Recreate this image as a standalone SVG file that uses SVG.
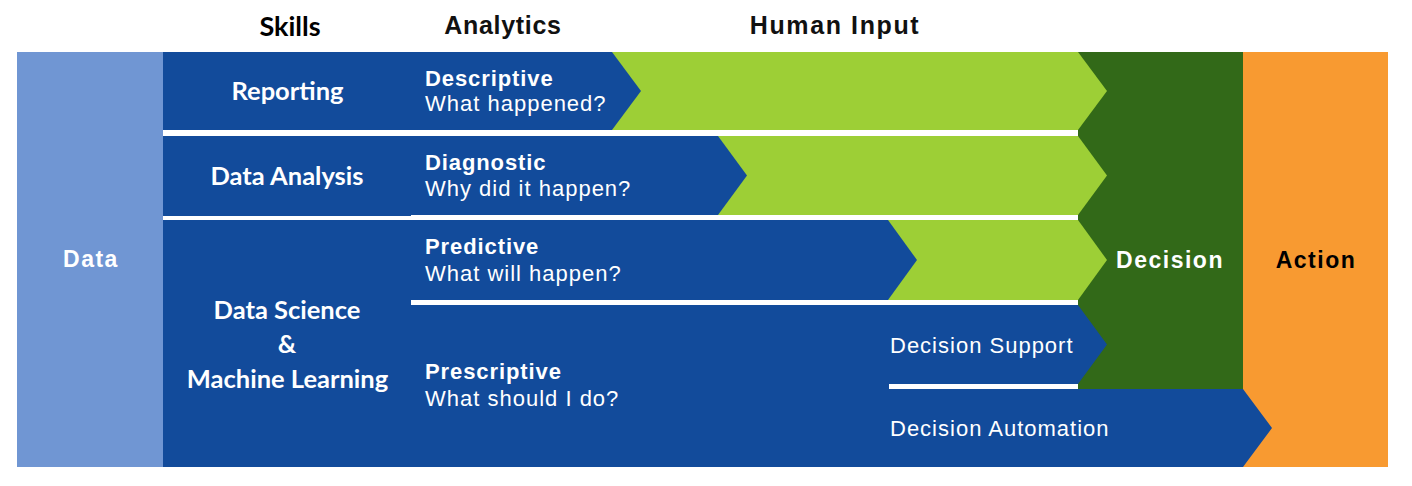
<svg xmlns="http://www.w3.org/2000/svg" width="1412" height="486" viewBox="0 0 1412 486">
<style>
.blue{fill:#124B9B}
.green{fill:#9DCF36}
.dgreen{fill:#326918}
.orange{fill:#F89A31}
.lblue{fill:#7096D3}
.hdr{font-family:"Liberation Sans",Arial,sans-serif;font-weight:bold;font-size:25px;fill:#111;text-anchor:middle}
.skh{font-family:Lato,"Open Sans",sans-serif;font-weight:bold;font-size:27px;fill:#000;text-anchor:middle}
.sk{font-family:Lato,"Open Sans",sans-serif;font-weight:bold;font-size:25.5px;fill:#fff;text-anchor:middle}
.ab{font-family:"Liberation Sans",Arial,sans-serif;font-weight:bold;font-size:22px;fill:#fff;letter-spacing:0.9px}
.ar{font-family:"Liberation Sans",Arial,sans-serif;font-size:22px;fill:#fff;letter-spacing:1px}
.big{font-family:"Liberation Sans",Arial,sans-serif;font-weight:bold;font-size:23px;letter-spacing:1.5px;text-anchor:middle}
</style>
<rect width="1412" height="486" fill="#fff"/>

<g id="headers">
<text class="skh" x="290" y="36">Skills</text>
<text class="hdr" x="503" y="34" letter-spacing="0.7">Analytics</text>
<text class="hdr" x="835" y="34" letter-spacing="1.6">Human Input</text>
</g>

<g id="data">
<rect class="lblue" x="17" y="52" width="146" height="415"/>
<text class="big" x="91" y="267" fill="#fff">Data</text>
</g>

<g id="action">
<rect class="orange" x="1243" y="52" width="145" height="415"/>
<text class="big" x="1316" y="268" fill="#000">Action</text>
</g>

<g id="decision">
<rect class="dgreen" x="1078" y="52" width="165" height="337"/>
<text class="big" x="1170" y="268" fill="#fff">Decision</text>
</g>

<g id="human-input">
<polygon class="green" points="411,52 1078,52 1107,91 1078,130 411,130"/>
<polygon class="green" points="411,136 1078,136 1107,175.5 1078,215 411,215"/>
<polygon class="green" points="411,220 1078,220 1107,260 1078,300 411,300"/>
</g>

<g id="skill-reporting">
<rect class="blue" x="163" y="52" width="248" height="78"/>
<text class="sk" x="287.5" y="100">Reporting</text>
</g>
<g id="skill-data-analysis">
<rect class="blue" x="163" y="136" width="248" height="80"/>
<text class="sk" x="287" y="185">Data Analysis</text>
</g>
<g id="skill-data-science">
<rect class="blue" x="163" y="220" width="248" height="247"/>
<text class="sk" x="287" y="319">Data Science</text>
<text class="sk" x="287" y="353">&amp;</text>
<text class="sk" x="287.5" y="388">Machine Learning</text>
</g>

<g id="descriptive">
<polygon class="blue" points="411,52 612,52 641,91 612,130 411,130"/>
<text class="ab" x="425" y="85.5">Descriptive</text>
<text class="ar" x="425" y="111">What happened?</text>
</g>
<g id="diagnostic">
<polygon class="blue" points="411,136 718,136 747,175.5 718,215 411,215"/>
<text class="ab" x="425" y="169.5">Diagnostic</text>
<text class="ar" x="425" y="196">Why did it happen?</text>
</g>
<g id="predictive">
<polygon class="blue" points="411,220 888,220 917,260 888,300 411,300"/>
<text class="ab" x="425" y="254">Predictive</text>
<text class="ar" x="425" y="280.5">What will happen?</text>
</g>
<g id="prescriptive">
<polygon class="blue" points="411,305 1078,305 1107,344.5 1078,384 889,384 889,389 1243,389 1272,428 1243,467 411,467"/>
<text class="ab" x="425" y="378.5">Prescriptive</text>
<text class="ar" x="425" y="406">What should I do?</text>
</g>
<g id="decision-support">
<text class="ar" x="890" y="352.5">Decision Support</text>
</g>
<g id="decision-automation">
<text class="ar" x="890" y="436">Decision Automation</text>
</g>

<g id="connectors"></g>
</svg>
